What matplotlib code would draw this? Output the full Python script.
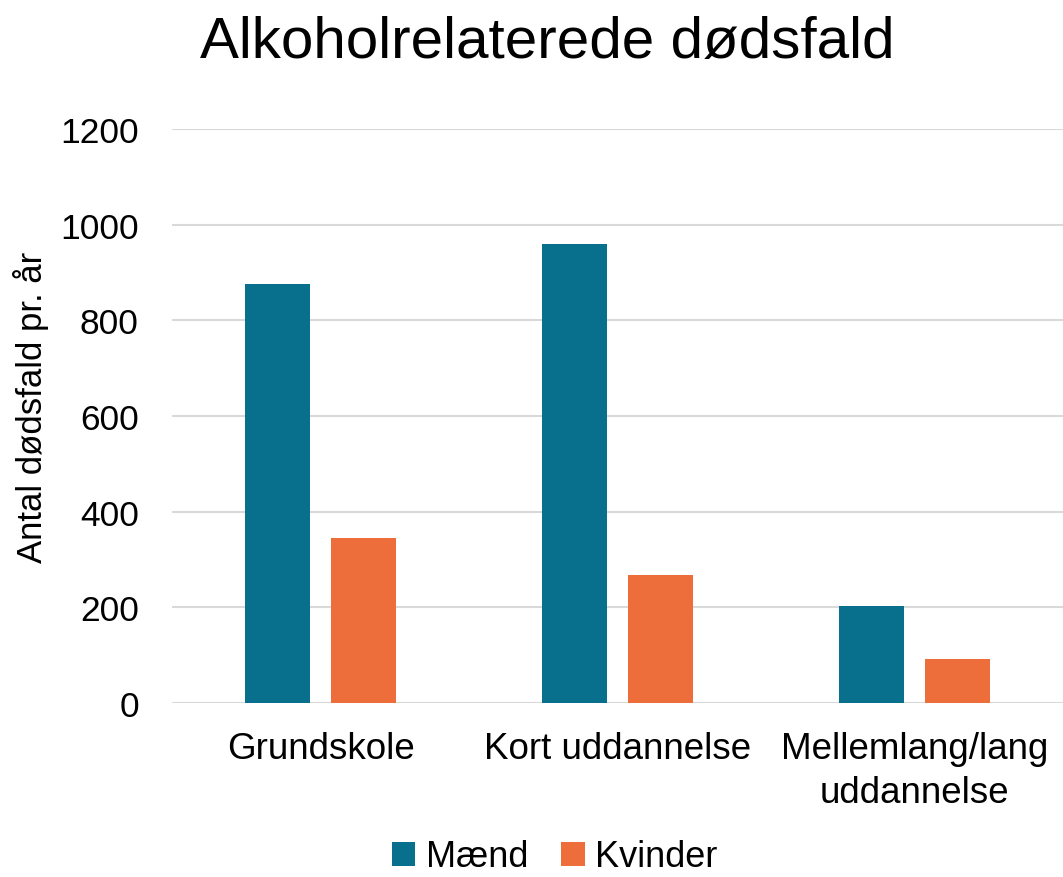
import matplotlib.pyplot as plt
import numpy as np

plt.rcParams['font.family'] = ['Liberation Sans', 'DejaVu Sans']

categories = ['Grundskole', 'Kort uddannelse', 'Mellemlang/lang\nuddannelse']
maend = [875, 960, 202]
kvinder = [346, 268, 92]
yticks = [0, 200, 400, 600, 800, 1000, 1200]

fig = plt.figure(figsize=(10.63, 8.78), dpi=100)
ax = fig.add_axes([0.162, 0.198, 0.838, 0.654])

x = np.arange(len(categories))
w = 0.22
ax.bar(x - 0.145, maend, w, color='#08708C', label='Mænd', zorder=2)
ax.bar(x + 0.145, kvinder, w, color='#ED6D3B', label='Kvinder', zorder=2)

ax.set_xlim(-0.5, 2.5)
ax.set_ylim(0, 1200)
ax.set_yticks(yticks)
ax.yaxis.grid(True, color='#D9D9D9', linewidth=1.5, zorder=0)
ax.set_axisbelow(True)
for s in ax.spines.values():
	s.set_visible(False)
ax.tick_params(axis='y', length=0, labelsize=25.5, pad=24)
ax.tick_params(axis='x', length=0, labelsize=26.5, pad=20)
ax.set_xticks(x)
ax.set_xticklabels(categories, linespacing=1.35)
ax.set_ylabel('Antal dødsfald pr. år', fontsize=25)
ax.yaxis.set_label_coords(-0.138, 0.517)

fig.suptitle('Alkoholrelaterede dødsfald', fontsize=42, x=0.515, y=0.982)

fig.legend(loc='lower center', bbox_to_anchor=(0.522, -0.034), ncol=2, frameon=False,
	fontsize=26, handlelength=0.65, handleheight=0.65, handletextpad=0.3, columnspacing=0.9)

fig.savefig('out.png', dpi=100)
